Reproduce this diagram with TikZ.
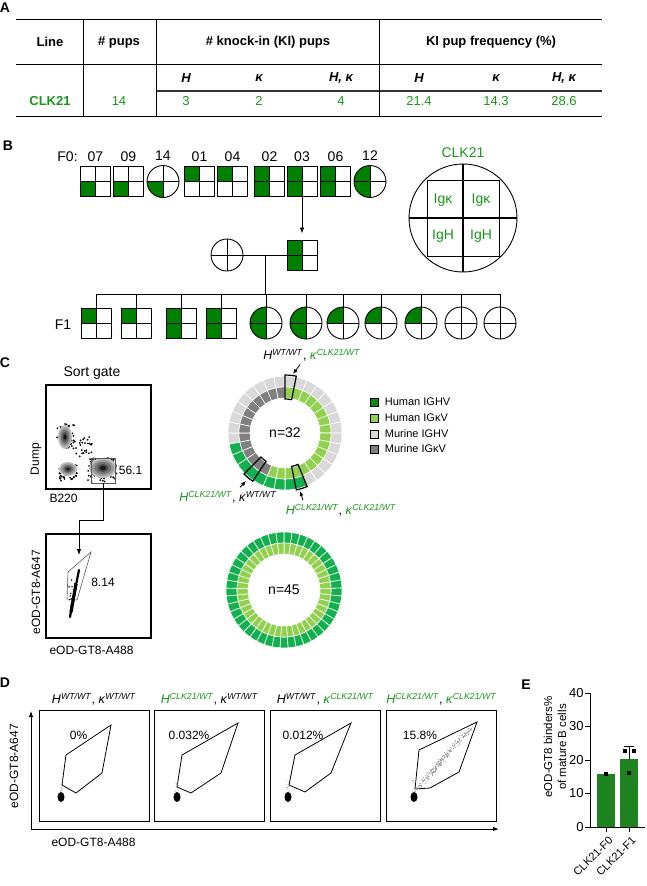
\documentclass[tikz,border=0pt]{standalone}
\usepackage{fontspec}
\setmainfont{Liberation Sans}
\usetikzlibrary{arrows.meta, positioning, calc}

\definecolor{kigreen}{RGB}{25,150,25}
\definecolor{pedgreen}{RGB}{0,128,0}
\definecolor{hugh}{RGB}{20,176,80}
\definecolor{hughkey}{RGB}{10,140,20}
\definecolor{hugk}{RGB}{146,208,80}
\definecolor{mugh}{RGB}{217,217,217}
\definecolor{mugk}{RGB}{128,128,128}
\definecolor{bargreen}{RGB}{30,130,30}

\newcommand{\geno}[2]{\textit{#1}\textsuperscript{\textit{#2}}}

\begin{document}
\begin{tikzpicture}[x=1pt, y=-1pt,
    panel/.style={font=\fontsize{14}{16}\selectfont\bfseries},
    hd/.style={font=\fontsize{13}{15}\selectfont\bfseries},
    subhd/.style={font=\fontsize{13}{15}\selectfont\bfseries\itshape},
    cell/.style={font=\fontsize{13}{15}\selectfont, text=kigreen},
    rule/.style={line width=1pt},
    lbl/.style={font=\fontsize{14}{16}\selectfont},
    keytxt/.style={font=\fontsize{14}{16}\selectfont, text=kigreen},
    axl/.style={font=\fontsize{12}{14}\selectfont},
    gt/.style={font=\fontsize{12.5}{14}\selectfont},
    pct/.style={font=\fontsize{12}{14}\selectfont},
    legtxt/.style={font=\fontsize{11}{13}\selectfont},
    legsq/.style={draw, line width=0.7pt, minimum size=8pt, inner sep=0pt},
    ticklbl/.style={font=\fontsize{13}{15}\selectfont},
    ped/.style={draw, line width=0.9pt, inner sep=0pt, minimum size=30pt},
    male/.style={ped, rectangle},
    female/.style={ped, circle, minimum size=32pt},
    quad/.style 2 args={path picture={
        \fill[pedgreen] (path picture bounding box.#1) rectangle (path picture bounding box.#2);
        \draw[line width=0.9pt] (path picture bounding box.north) -- (path picture bounding box.south)
          (path picture bounding box.west) -- (path picture bounding box.east);}},
    tl/.style={quad={north west}{center}},
    bl/.style={quad={west}{south}},
    lh/.style={quad={north west}{south}},
    wt/.style={quad={center}{center}},
    seg/.style={draw=white, line width=0.6pt},
    hilite/.style={draw=black, line width=1.2pt},
    gate/.style={draw=black!65, line width=0.6pt},
    fcbox/.style={draw, line width=1.2pt, minimum width=105pt, minimum height=104pt},
    dbox/.style={draw, line width=0.9pt, minimum width=110pt, minimum height=111pt},
    arrow/.style={-{Latex[length=6pt, width=4.5pt]}, line width=0.8pt},
    arrowsm/.style={-{Latex[length=5pt, width=4pt]}, line width=0.8pt}
  ]
  \useasboundingbox (0,0) rectangle (647,886);

  % ---------- A: table
  \node[panel] (labA) at (5,8) {A};
  \draw[rule] (16,19) -- (602,19);
  \draw[rule] (16,64) -- (602,64);
  \draw[line width=1.6pt, black!80] (156,91) -- (602,91);
  \draw[rule] (16,116) -- (602,116);
  \foreach \x in {83,156,379} \draw[rule] (\x,19) -- (\x,116);
  \node[hd] (hline) at (50,42) {Line};
  \node[hd] (hpups) at (119,42) {\# pups};
  \node[hd] (hki) at (268,42) {\# knock-in (KI) pups};
  \node[hd] (hfreq) at (491,42) {KI pup frequency (\%)};
  \foreach \x/\t [count=\n] in {186/H, 259/κ, 341/{H, κ}, 419/H, 496/κ, 564/{H, κ}}
    \node[subhd] (sub\n) at (\x,78) {\t};
  \node[hd, text=kigreen] (dline) at (50,101) {CLK21};
  \foreach \x/\t [count=\n] in {119/14, 186/3, 259/2, 341/4, 419/21.4, 496/14.3, 564/28.6}
    \node[cell] (val\n) at (\x,101) {\t};

  % ---------- B: pedigree
  \node[panel] (labB) at (8,146) {B};
  \node[male, bl] (f07) at (95.5,181.5) {};
  \node[male, bl] (f09) at (128.5,181.5) {};
  \node[female, bl] (f14) at (163,181.5) {};
  \node[male, tl] (f01) at (199.5,181.5) {};
  \node[male, tl] (f04) at (232.5,181.5) {};
  \node[male, lh] (f02) at (269.5,181.5) {};
  \node[male, lh] (f03) at (302,181.5) {};
  \node[male, lh] (f06) at (335.5,181.5) {};
  \node[female, lh] (f12) at (370,181.5) {};
  \foreach \n in {07,09,14,01,04,02,03,06,12}
    \node[lbl, above=1pt of f\n] (n\n) {\n};
  \node[lbl, left=3pt of n07] (f0lbl) {F0:};

  \node[female, wt] (mom) at (227,255) {};
  \node[male, lh] (dad) at (302,255) {};
  \draw[arrow, shorten >=6pt] (f03) -- (dad);
  \draw[line width=0.9pt] (mom) -- (dad);

  \node[male, tl] (c1) at (96,323) {};
  \node[male, tl] (c2) at (136.5,323) {};
  \node[male, lh] (c3) at (181.5,323) {};
  \node[male, lh] (c4) at (221.5,323) {};
  \node[female, lh] (c5) at (266,323) {};
  \node[female, lh] (c6) at (306,323) {};
  \node[female, tl] (c7) at (343,323) {};
  \node[female, tl] (c8) at (381,323) {};
  \node[female, tl] (c9) at (421,323) {};
  \node[female, wt] (c10) at (461,323) {};
  \node[female, wt] (c11) at (500,323) {};
  \node[lbl] (f1lbl) at (63,325) {F1};

  \coordinate (mate) at ($(mom.east)!0.5!(dad.west)$);
  \coordinate (sib) at (0,294);
  \draw[line width=0.9pt] (mate) -- (mate |- sib);
  \draw[line width=0.9pt] (sib -| c1) -- (sib -| c11);
  \foreach \i in {1,...,11} \draw[line width=0.9pt] (sib -| c\i) -- (c\i);

  % key
  \node[draw, circle, line width=0.9pt, minimum size=108pt, inner sep=0pt] (key) at (463,218) {};
  \node[draw, line width=0.9pt, minimum width=72pt, minimum height=76pt] (keysq) at (key) {};
  \draw[line width=2pt] (key.north) -- (key.south) (key.west) -- (key.east);
  \node[keytxt] (kk1) at (443,200) {Igκ};
  \node[keytxt] (kk2) at (481,200) {Igκ};
  \node[keytxt] (kh1) at (443,236) {IgH};
  \node[keytxt] (kh2) at (481,236) {IgH};
  \node[keytxt, above=2pt of key] (keyname) {CLK21};

  % ---------- C: sort gate and pies
  \node[panel] (labC) at (5,363) {C};
  \node[lbl] (sortname) at (92,373) {Sort gate};
  \node[fcbox] (fc1) at (98.5,437) {};
  \node[fcbox] (fc2) at (98.5,586) {};
  \node[axl, rotate=90] (dump) at (36,459) {Dump};
  \node[axl, anchor=west] (b220) at (46,498) {B220};
  \node[axl, rotate=90] (ya647) at (36,592) {eOD-GT8-A647};
  \node[axl, anchor=west] (xa488) at (46,650) {eOD-GT8-A488};

  \pgfmathsetseed{11}
  \foreach \i in {1,...,45} \fill ({66+9*rand},{437+13*rand}) circle[radius=1];
  \foreach \i in {1,...,25} \fill ({84+8*rand},{447+10*rand}) circle[radius=1];
  \foreach \i in {1,...,40} \fill ({68+9*rand},{473+8*rand}) circle[radius=1];
  \foreach \i in {1,...,70} \fill ({102+15*rand},{470+12*rand}) circle[radius=1];
  \foreach \s/\c in {1/25,0.8/40,0.6/55,0.4/70,0.22/90} {
    \fill[black!\c] (65,437) ellipse[x radius=7*\s, y radius=12*\s];
    \fill[black!\c] (68,469) ellipse[x radius=9*\s, y radius=7*\s];
    \fill[black!\c] (103,468) ellipse[x radius=14*\s, y radius=10*\s];
  }
  \node[gate, minimum width=24pt, minimum height=25pt, inner sep=0pt] (gate1) at (103,470.5) {};
  \node[axl, right=0pt of gate1] (pct561) {56.1};

  \draw[gate] (68,572) -- (91,552) -- (77,600) -- (67,599) -- cycle;
  \draw[line width=2.2pt, line cap=round] (79,570) .. controls (76,585) and (73,600) .. (70,617);
  \draw[line width=3.2pt, line cap=round] (76,584) -- (71,612);
  \foreach \i in {1,...,12} \fill ({73+4*rand},{595+20*rand}) circle[radius=0.8];
  \node[axl] (pct814) at (103,582) {8.14};
  \coordinate (g2) at (79,555);
  \draw[arrow] (gate1.south) -- ++(0,37) -| (g2);

  % pie n=32
  \begin{scope}[shift={(285,433)}]
    \foreach \i in {0,...,31}{
      \pgfmathsetmacro\a{90-11.25*\i}
      \pgfmathsetmacro\b{90-11.25*(\i+1)}
      \ifnum\i<14 \def\hc{mugh}\else\ifnum\i>22 \def\hc{mugh}\else\def\hc{hugh}\fi\fi
      \ifnum\i<18 \def\kc{hugk}\else\def\kc{mugk}\fi
      \path[seg, fill=\hc] (\a:46pt) arc[start angle=\a, end angle=\b, radius=46pt]
        -- (\b:57pt) arc[start angle=\b, end angle=\a, radius=57pt] -- cycle;
      \path[seg, fill=\kc] (\a:35pt) arc[start angle=\a, end angle=\b, radius=35pt]
        -- (\b:46pt) arc[start angle=\b, end angle=\a, radius=46pt] -- cycle;
    }
    \foreach \i in {0,14,19}{
      \pgfmathsetmacro\a{90-11.25*\i}
      \pgfmathsetmacro\b{90-11.25*(\i+1)}
      \path[hilite] (\a:34pt) arc[start angle=\a, end angle=\b, radius=34pt]
        -- (\b:58pt) arc[start angle=\b, end angle=\a, radius=58pt] -- cycle;
    }
  \end{scope}
  \node[lbl] (n32) at (285,433) {n=32};

  \node[gt] (lab0) at (312,355) {\geno{H}{WT/WT}, \textcolor{kigreen}{\geno{κ}{CLK21/WT}}};
  \node[gt] (lab19) at (228,497) {\textcolor{kigreen}{\geno{H}{CLK21/WT}}, \geno{κ}{WT/WT}};
  \node[gt] (lab14) at (341,510) {\textcolor{kigreen}{\geno{H}{CLK21/WT}}, \textcolor{kigreen}{\geno{κ}{CLK21/WT}}};
  \coordinate (hl0) at (293,374);
  \coordinate (hl19) at (246,481);
  \coordinate (hl14) at (300,491);
  \draw[arrowsm] ([xshift=-12pt]lab0.south) -- (hl0);
  \draw[arrowsm] ([xshift=12pt]lab19.north) -- (hl19);
  \draw[arrowsm] ([xshift=-38pt]lab14.north) -- (hl14);

  % legend
  \foreach \c/\t/\y [count=\n] in {hughkey/Human IGHV/402, hugk/Human IGκV/418,
      mugh/Murine IGHV/434, mugk/Murine IGκV/449}{
    \node[legsq, fill=\c] (sq\n) at (374,\y) {};
    \node[legtxt, right=3pt of sq\n] (lt\n) {\t};
  }

  % pie n=45
  \begin{scope}[shift={(284,590)}]
    \foreach \i in {0,...,44}{
      \pgfmathsetmacro\a{90-8*\i}
      \pgfmathsetmacro\b{90-8*(\i+1)}
      \path[seg, fill=hugh] (\a:47pt) arc[start angle=\a, end angle=\b, radius=47pt]
        -- (\b:58pt) arc[start angle=\b, end angle=\a, radius=58pt] -- cycle;
      \path[seg, fill=hugk] (\a:36pt) arc[start angle=\a, end angle=\b, radius=36pt]
        -- (\b:47pt) arc[start angle=\b, end angle=\a, radius=47pt] -- cycle;
    }
  \end{scope}
  \node[lbl] (n45) at (284,590) {n=45};

  % ---------- D: binders
  \node[panel] (labD) at (5,683) {D};
  \foreach \i/\x in {1/94, 2/209.5, 3/325.5, 4/441.5}
    \node[dbox] (d\i) at (\x,765.5) {};
  \node[gt, above=1pt of d1] (t1) {\geno{H}{WT/WT}, \geno{κ}{WT/WT}};
  \node[gt, above=1pt of d2] (t2) {\textcolor{kigreen}{\geno{H}{CLK21/WT}}, \geno{κ}{WT/WT}};
  \node[gt, above=1pt of d3] (t3) {\geno{H}{WT/WT}, \textcolor{kigreen}{\geno{κ}{CLK21/WT}}};
  \node[gt, above=1pt of d4] (t4) {\textcolor{kigreen}{\geno{H}{CLK21/WT}}, \textcolor{kigreen}{\geno{κ}{CLK21/WT}}};
  \coordinate (dorg) at (31,829);
  \coordinate (dyt) at (31,711);
  \coordinate (dxt) at (499,829);
  \draw[arrow, line width=1pt] (dorg) -- (dyt);
  \draw[arrow, line width=1pt] (dorg) -- (dxt);
  \node[axl, rotate=90] (dy647) at (14,766) {eOD-GT8-A647};
  \node[axl, anchor=west] (dx488) at (48,842) {eOD-GT8-A488};

  \draw[line width=0.8pt] (66,755) -- (111,725) -- (102,773) -- (76,793) -- (62,785) -- cycle;
  \draw[line width=0.8pt] (182,755) -- (238,723) -- (221,773) -- (191,793) -- (177,787) -- cycle;
  \draw[line width=0.8pt] (295,755) -- (351,723) -- (331,773) -- (305,792) -- (289,785) -- cycle;
  \draw[line width=0.8pt] (419,750) -- (477,722) -- (459,772) -- (430,788) -- (415,789) -- cycle;
  \node[pct] (p1) at (78.5,735) {0\%};
  \node[pct] (p2) at (189,735) {0.032\%};
  \node[pct] (p3) at (303,735) {0.012\%};
  \node[pct] (p4) at (420,735) {15.8\%};

  \foreach \x in {61,177,288,414} {
    \foreach \i in {1,...,10} \fill[black!40] ({\x+2*rand},{788+8*rand}) circle[radius=0.5];
    \fill (\x,797) ellipse[x radius=3.5, y radius=5];
  }
  \foreach \i in {1,...,220} {
    \pgfmathsetmacro\t{rnd}
    \fill[black!45] ($(416,790)!\t!(470,728) + ({2.5*rand},{2.5*rand})$) circle[radius=0.55];
  }

  % ---------- E: bar chart
  \node[panel] (labE) at (526,685) {E};
  \coordinate (eo) at (590,827);
  \coordinate (ey) at (590,693);
  \coordinate (ex) at (645,827);
  \fill[bargreen] (597,827) rectangle (615,774);
  \fill[bargreen] (620,827) rectangle (638,759);
  \draw[line width=1pt] (ey) -- (eo) -- (ex);
  \foreach \v in {0,10,20,30,40}
    \draw[line width=1pt] (590,827-3.35*\v) -- ++(-5,0) node[ticklbl, anchor=east, inner sep=1pt] {\v};
  \draw[line width=1pt] (606,827) -- ++(0,5) (629,827) -- ++(0,5);
  \draw[line width=1pt] (629,759) -- (629,746) (624,746) -- (634,746);
  \foreach \x/\y in {606/774, 625/751, 634/751, 629/773}
    \fill (\x,\y) +(-2.2,-2.2) rectangle +(2.2,2.2);
  \node[axl, rotate=90, align=center, font=\fontsize{11.5}{14}\selectfont] (eylab) at (555,747)
    {eOD-GT8 binders\%\\of mature B cells};
  \node[axl, rotate=45, anchor=north east, font=\fontsize{11}{13}\selectfont, inner sep=0.5pt] (xf0) at (608,835) {CLK21-F0};
  \node[axl, rotate=45, anchor=north east, font=\fontsize{11}{13}\selectfont, inner sep=0.5pt] (xf1) at (631,835) {CLK21-F1};
\end{tikzpicture}
\end{document}
